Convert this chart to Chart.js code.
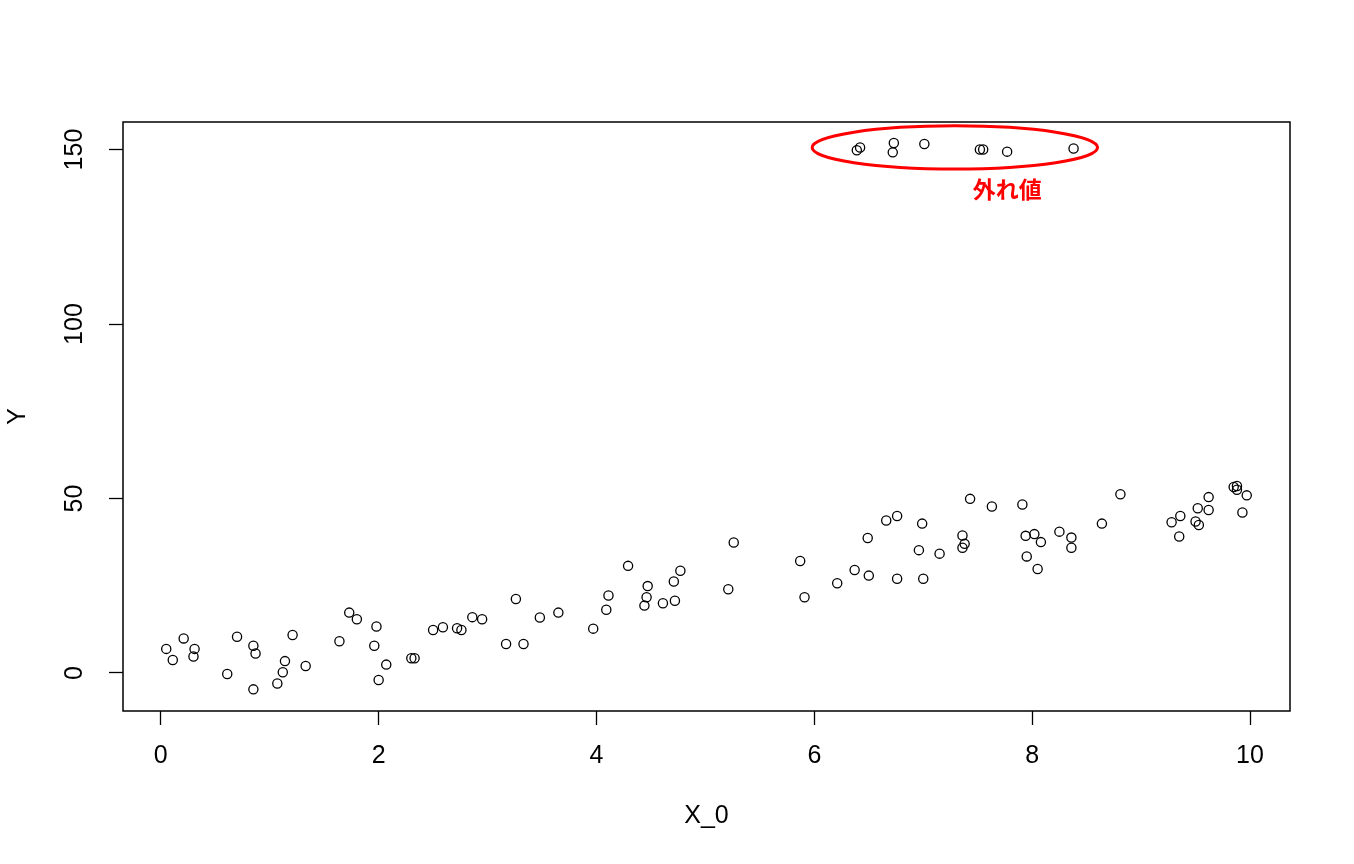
<!DOCTYPE html>
<html>
<head>
<meta charset="utf-8">
<script src="https://cdn.jsdelivr.net/npm/chart.js@4/dist/chart.umd.min.js"></script>
<style>
  html, body { margin: 0; padding: 0; background: #ffffff; }
  #wrap { width: 1354px; height: 864px; position: relative; }
</style>
</head>
<body>
<div id="wrap"><canvas id="c" width="1354" height="864"></canvas></div>
<script>
// ---- data ----
const xValues = [
  0.05, 0.11, 0.21, 0.31, 0.30, 0.61, 0.70, 0.85, 0.87, 0.85,
  1.07, 1.12, 1.14, 1.21, 1.33, 1.64, 1.73, 1.80, 1.98, 1.96,
  2.07, 2.00, 2.30, 2.33, 2.50, 2.59, 2.72, 2.76, 2.86, 2.95,
  3.26, 3.17, 3.33, 3.48, 3.65, 3.97, 4.09, 4.11, 4.29, 4.47,
  4.46, 4.44, 4.61, 4.72, 4.71, 4.77, 5.26, 5.21, 5.87, 5.91,
  6.21, 6.37, 6.50, 6.49, 6.66, 6.76, 6.76, 6.99, 6.96, 7.00,
  7.15, 7.36, 7.38, 7.36, 7.43, 7.63, 7.91, 7.94, 7.95, 8.02,
  8.08, 8.05, 8.25, 8.36, 8.36, 8.64, 8.81, 9.28, 9.36, 9.35,
  9.50, 9.53, 9.52, 9.62, 9.62, 9.85, 9.88, 9.88, 9.97, 9.93
];
const yValues = [
  6.9, 3.7, 9.9, 6.9, 4.7, -0.3, 10.4, 7.8, 5.6, -4.7,
  -3.0, 0.2, 3.4, 10.9, 2.0, 9.1, 17.3, 15.4, 13.3, 7.8,
  2.4, -2.0, 4.2, 4.2, 12.3, 13.1, 12.8, 12.3, 16.0, 15.4,
  21.2, 8.3, 8.3, 15.9, 17.3, 12.7, 18.1, 22.2, 30.7, 24.9,
  21.7, 19.3, 20.0, 20.7, 26.2, 29.3, 37.4, 24.0, 32.1, 21.7,
  25.7, 29.5, 27.9, 38.7, 43.7, 45.0, 27.0, 42.8, 35.2, 27.0,
  34.2, 39.4, 37.0, 35.9, 49.9, 47.7, 48.3, 39.3, 33.4, 39.8,
  37.5, 29.8, 40.5, 38.8, 35.9, 42.8, 51.2, 43.2, 45.0, 39.1,
  43.4, 42.4, 47.2, 50.4, 46.7, 53.3, 53.6, 52.5, 50.9, 46.0
];
const outlierX = [6.39, 6.42, 6.73, 6.72, 7.01, 7.52, 7.55, 7.77, 8.38];
const outlierY = [149.8, 150.6, 151.9, 149.2, 151.6, 150.0, 150.0, 149.4, 150.3];
const xTicks = [0, 2, 4, 6, 8, 10];
const yTicks = [0, 50, 100, 150];
const xTitle = 'X_0';
const yTitle = 'Y';
const outlierLabel = '外れ値';
// annotation ellipse (data units): centre x, centre y, half-width, half-height
const ellipseData = { cx: 7.29, cy: 150.6, rx: 1.31, ry: 6.2 };
const labelPos = { x: 7.77, y: 138.7 };

const points = xValues.map((x, i) => ({ x: x, y: yValues[i] }))
  .concat(outlierX.map((x, i) => ({ x: x, y: outlierY[i] })));

const FONT = '"Liberation Sans", Arial, sans-serif';

const framePlugin = {
  id: 'frame',
  afterDraw(chart) {
    const ctx = chart.ctx;
    const a = chart.chartArea;
    const xs = chart.scales.x, ys = chart.scales.y;
    ctx.save();
    // plot box
    ctx.strokeStyle = '#000';
    ctx.lineWidth = 1.5;
    ctx.strokeRect(a.left, a.top, a.right - a.left, a.bottom - a.top);
    // rotated y tick labels (parallel to axis)
    ctx.fillStyle = '#000';
    ctx.font = '25px ' + FONT;
    ctx.textAlign = 'center';
    ctx.textBaseline = 'middle';
    ys.ticks.forEach(t => {
      const py = ys.getPixelForValue(t.value);
      ctx.save();
      ctx.translate(75, py);
      ctx.rotate(-Math.PI / 2);
      ctx.fillText(String(t.value), 0, 0);
      ctx.restore();
    });
    // outlier ellipse
    const cx = xs.getPixelForValue(ellipseData.cx);
    const cy = ys.getPixelForValue(ellipseData.cy);
    const rx = Math.abs(xs.getPixelForValue(ellipseData.cx + ellipseData.rx) - cx);
    const ry = Math.abs(ys.getPixelForValue(ellipseData.cy + ellipseData.ry) - cy);
    ctx.beginPath();
    ctx.ellipse(cx, cy, rx, ry, 0, 0, Math.PI * 2);
    ctx.strokeStyle = '#ff0000';
    ctx.lineWidth = 3;
    ctx.stroke();
    // label
    ctx.fillStyle = '#ff0000';
    ctx.font = 'bold 23px "Noto Sans CJK JP", sans-serif';
    ctx.textAlign = 'center';
    ctx.textBaseline = 'middle';
    ctx.fillText(outlierLabel, xs.getPixelForValue(labelPos.x), ys.getPixelForValue(labelPos.y));
    ctx.restore();
  }
};

new Chart(document.getElementById('c'), {
  type: 'scatter',
  data: {
    datasets: [{
      data: points,
      pointStyle: 'circle',
      pointRadius: 4.6,
      pointHoverRadius: 4.6,
      pointBorderWidth: 1.3,
      pointBorderColor: '#000',
      pointBackgroundColor: 'rgba(0,0,0,0)',
      showLine: false
    }]
  },
  options: {
    responsive: false,
    animation: false,
    events: [],
    layout: { padding: { left: 3, top: 122, right: 64, bottom: 33 } },
    plugins: { legend: { display: false }, tooltip: { enabled: false } },
    scales: {
      x: {
        type: 'linear',
        min: -0.347,
        max: 10.367,
        afterBuildTicks(scale) { scale.ticks = xTicks.map(v => ({ value: v })); },
        afterFit(scale) { scale.height = 120; },
        border: { display: false },
        grid: { display: true, drawOnChartArea: false, drawTicks: true, tickLength: 14, tickColor: '#000', tickWidth: 1.3 },
        ticks: { color: '#000', padding: 16, maxRotation: 0, font: { family: FONT, size: 25 } },
        title: { display: true, text: xTitle, color: '#000', padding: 0, font: { family: FONT, size: 25 } }
      },
      y: {
        type: 'linear',
        min: -10.9,
        max: 157.9,
        afterBuildTicks(scale) { scale.ticks = yTicks.map(v => ({ value: v })); },
        afterFit(scale) { scale.width = 120; },
        border: { display: false },
        grid: { display: true, drawOnChartArea: false, drawTicks: true, tickLength: 14, tickColor: '#000', tickWidth: 1.3 },
        ticks: { display: false },
        title: { display: true, text: yTitle, color: '#000', padding: 0, font: { family: FONT, size: 25 } }
      }
    }
  },
  plugins: [framePlugin]
});
</script>
</body>
</html>
